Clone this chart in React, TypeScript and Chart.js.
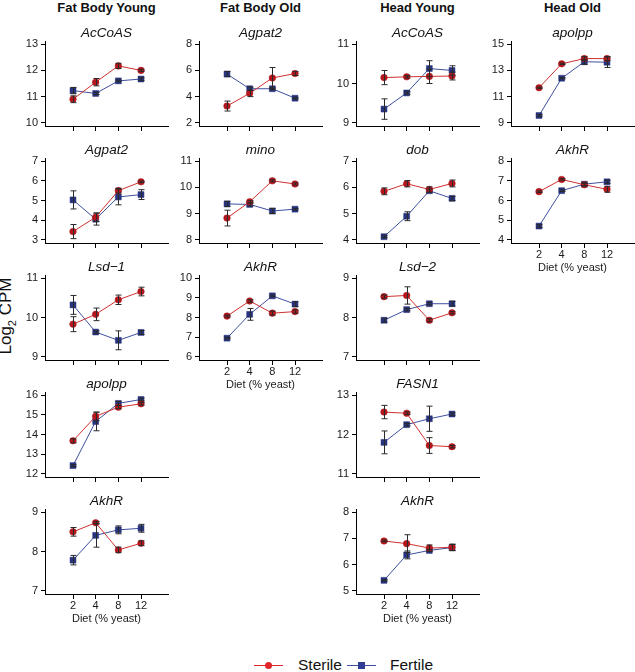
import React, { useEffect, useRef } from 'react';
import { Chart, registerables } from 'chart.js';

Chart.register(...registerables);

const FONT = '"Liberation Sans", Arial, Helvetica, sans-serif';
Chart.defaults.font.family = FONT;

// ---- categories / labels ----
const dietLabels = ['2', '4', '8', '12'];
const dietPositions = [1, 2, 3, 4];
const columnTitles = ['Fat Body Young', 'Fat Body Old', 'Head Young', 'Head Old'];
const seriesNames = ['Sterile', 'Fertile'];
const yAxisTitle = 'Log';

// ---- Fat Body Young ----
const fbyAcCoASTicks = [10, 11, 12, 13];
const fbyAcCoASSterile = [10.9, 11.55, 12.17, 12.0];
const fbyAcCoASSterileErr = [0.13, 0.14, 0.1, 0.04];
const fbyAcCoASFertile = [11.23, 11.12, 11.6, 11.67];
const fbyAcCoASFertileErr = [0.12, 0.04, 0.03, 0.05];

const fbyAgpat2Ticks = [3, 4, 5, 6, 7];
const fbyAgpat2Sterile = [3.42, 4.15, 5.5, 5.95];
const fbyAgpat2SterileErr = [0.36, 0.22, 0.12, 0.04];
const fbyAgpat2Fertile = [5.03, 4.05, 5.18, 5.3];
const fbyAgpat2FertileErr = [0.46, 0.3, 0.4, 0.25];

const fbyLsd1Ticks = [9, 10, 11];
const fbyLsd1Sterile = [9.83, 10.08, 10.45, 10.66];
const fbyLsd1SterileErr = [0.19, 0.16, 0.12, 0.11];
const fbyLsd1Fertile = [10.32, 9.63, 9.42, 9.62];
const fbyLsd1FertileErr = [0.24, 0.03, 0.24, 0.05];

const fbyApolppTicks = [12, 13, 14, 15, 16];
const fbyApolppSterile = [13.68, 14.92, 15.39, 15.56];
const fbyApolppSterileErr = [0.1, 0.22, 0.08, 0.07];
const fbyApolppFertile = [12.42, 14.66, 15.58, 15.78];
const fbyApolppFertileErr = [0.05, 0.47, 0.1, 0.07];

const fbyAkhRTicks = [7, 8, 9];
const fbyAkhRSterile = [8.5, 8.73, 8.04, 8.21];
const fbyAkhRSterileErr = [0.11, 0.03, 0.07, 0.06];
const fbyAkhRFertile = [7.78, 8.41, 8.55, 8.59];
const fbyAkhRFertileErr = [0.12, 0.3, 0.1, 0.1];

// ---- Fat Body Old ----
const fboAgpat2Ticks = [2, 4, 6, 8];
const fboAgpat2Sterile = [3.28, 4.25, 5.42, 5.76];
const fboAgpat2SterileErr = [0.38, 0.25, 0.8, 0.15];
const fboAgpat2Fertile = [5.72, 4.6, 4.6, 3.88];
const fboAgpat2FertileErr = [0.2, 0.12, 0.08, 0.06];

const fboMinoTicks = [8, 9, 10, 11];
const fboMinoSterile = [8.83, 9.45, 10.25, 10.13];
const fboMinoSterileErr = [0.3, 0.04, 0.04, 0.04];
const fboMinoFertile = [9.37, 9.35, 9.1, 9.17];
const fboMinoFertileErr = [0.1, 0.06, 0.1, 0.03];

const fboAkhRTicks = [6, 7, 8, 9, 10];
const fboAkhRSterile = [8.07, 8.84, 8.22, 8.3];
const fboAkhRSterileErr = [0.05, 0.06, 0.1, 0.08];
const fboAkhRFertile = [6.95, 8.16, 9.1, 8.68];
const fboAkhRFertileErr = [0.04, 0.3, 0.04, 0.12];

// ---- Head Young ----
const hyAcCoASTicks = [9, 10, 11];
const hyAcCoASSterile = [10.15, 10.17, 10.18, 10.19];
const hyAcCoASSterileErr = [0.18, 0.03, 0.18, 0.1];
const hyAcCoASFertile = [9.35, 9.76, 10.38, 10.33];
const hyAcCoASFertileErr = [0.26, 0.03, 0.2, 0.12];

const hyDobTicks = [4, 5, 6, 7];
const hyDobSterile = [5.85, 6.14, 5.92, 6.15];
const hyDobSterileErr = [0.13, 0.12, 0.1, 0.13];
const hyDobFertile = [4.12, 4.9, 5.87, 5.58];
const hyDobFertileErr = [0.04, 0.17, 0.06, 0.08];

const hyLsd2Ticks = [7, 8, 9];
const hyLsd2Sterile = [8.53, 8.56, 7.93, 8.12];
const hyLsd2SterileErr = [0.04, 0.22, 0.04, 0.03];
const hyLsd2Fertile = [7.93, 8.2, 8.35, 8.35];
const hyLsd2FertileErr = [0.05, 0.03, 0.03, 0.06];

const hyFasn1Ticks = [11, 12, 13];
const hyFasn1Sterile = [12.57, 12.54, 11.72, 11.69];
const hyFasn1SterileErr = [0.17, 0.03, 0.2, 0.03];
const hyFasn1Fertile = [11.8, 12.25, 12.4, 12.52];
const hyFasn1FertileErr = [0.29, 0.03, 0.32, 0.03];

const hyAkhRTicks = [5, 6, 7, 8];
const hyAkhRSterile = [6.9, 6.8, 6.63, 6.66];
const hyAkhRSterileErr = [0.03, 0.34, 0.12, 0.12];
const hyAkhRFertile = [5.4, 6.37, 6.54, 6.65];
const hyAkhRFertileErr = [0.03, 0.15, 0.04, 0.12];

// ---- Head Old ----
const hoApolppTicks = [9, 11, 13, 15];
const hoApolppSterile = [11.68, 13.5, 13.9, 13.9];
const hoApolppSterileErr = [0.05, 0.05, 0.15, 0.15];
const hoApolppFertile = [9.56, 12.4, 13.66, 13.62];
const hoApolppFertileErr = [0.07, 0.05, 0.2, 0.4];

const hoAkhRTicks = [4, 5, 6, 7, 8];
const hoAkhRSterile = [6.45, 7.07, 6.8, 6.57];
const hoAkhRSterileErr = [0.04, 0.04, 0.07, 0.15];
const hoAkhRFertile = [4.7, 6.5, 6.83, 6.95];
const hoAkhRFertileErr = [0.07, 0.04, 0.07, 0.08];

type PanelDef = {
  col: number; row: number; title: string; ticks: number[];
  s: number[]; se: number[]; f: number[]; fe: number[]; labeled: boolean;
};

const panels: PanelDef[] = [
  { col: 0, row: 0, title: 'AcCoAS', ticks: fbyAcCoASTicks, s: fbyAcCoASSterile, se: fbyAcCoASSterileErr, f: fbyAcCoASFertile, fe: fbyAcCoASFertileErr, labeled: false },
  { col: 0, row: 1, title: 'Agpat2', ticks: fbyAgpat2Ticks, s: fbyAgpat2Sterile, se: fbyAgpat2SterileErr, f: fbyAgpat2Fertile, fe: fbyAgpat2FertileErr, labeled: false },
  { col: 0, row: 2, title: 'Lsd\u22121', ticks: fbyLsd1Ticks, s: fbyLsd1Sterile, se: fbyLsd1SterileErr, f: fbyLsd1Fertile, fe: fbyLsd1FertileErr, labeled: false },
  { col: 0, row: 3, title: 'apolpp', ticks: fbyApolppTicks, s: fbyApolppSterile, se: fbyApolppSterileErr, f: fbyApolppFertile, fe: fbyApolppFertileErr, labeled: false },
  { col: 0, row: 4, title: 'AkhR', ticks: fbyAkhRTicks, s: fbyAkhRSterile, se: fbyAkhRSterileErr, f: fbyAkhRFertile, fe: fbyAkhRFertileErr, labeled: true },
  { col: 1, row: 0, title: 'Agpat2', ticks: fboAgpat2Ticks, s: fboAgpat2Sterile, se: fboAgpat2SterileErr, f: fboAgpat2Fertile, fe: fboAgpat2FertileErr, labeled: false },
  { col: 1, row: 1, title: 'mino', ticks: fboMinoTicks, s: fboMinoSterile, se: fboMinoSterileErr, f: fboMinoFertile, fe: fboMinoFertileErr, labeled: false },
  { col: 1, row: 2, title: 'AkhR', ticks: fboAkhRTicks, s: fboAkhRSterile, se: fboAkhRSterileErr, f: fboAkhRFertile, fe: fboAkhRFertileErr, labeled: true },
  { col: 2, row: 0, title: 'AcCoAS', ticks: hyAcCoASTicks, s: hyAcCoASSterile, se: hyAcCoASSterileErr, f: hyAcCoASFertile, fe: hyAcCoASFertileErr, labeled: false },
  { col: 2, row: 1, title: 'dob', ticks: hyDobTicks, s: hyDobSterile, se: hyDobSterileErr, f: hyDobFertile, fe: hyDobFertileErr, labeled: false },
  { col: 2, row: 2, title: 'Lsd\u22122', ticks: hyLsd2Ticks, s: hyLsd2Sterile, se: hyLsd2SterileErr, f: hyLsd2Fertile, fe: hyLsd2FertileErr, labeled: false },
  { col: 2, row: 3, title: 'FASN1', ticks: hyFasn1Ticks, s: hyFasn1Sterile, se: hyFasn1SterileErr, f: hyFasn1Fertile, fe: hyFasn1FertileErr, labeled: false },
  { col: 2, row: 4, title: 'AkhR', ticks: hyAkhRTicks, s: hyAkhRSterile, se: hyAkhRSterileErr, f: hyAkhRFertile, fe: hyAkhRFertileErr, labeled: true },
  { col: 3, row: 0, title: 'apolpp', ticks: hoApolppTicks, s: hoApolppSterile, se: hoApolppSterileErr, f: hoApolppFertile, fe: hoApolppFertileErr, labeled: false },
  { col: 3, row: 1, title: 'AkhR', ticks: hoAkhRTicks, s: hoAkhRSterile, se: hoAkhRSterileErr, f: hoAkhRFertile, fe: hoAkhRFertileErr, labeled: true },
];

// ---- layout ----
const COL_X = [45, 199, 356, 511];
const ROW_AXIS_Y = [126, 243, 360, 477, 594];
const PLOT_W = 123;
const PLOT_H = 85;
const PAD_L = 40;
const PAD_T = 30;
const CAT_STEP = 68 / 3;
const X_MIN = 1 - 28 / CAT_STEP;
const X_MAX = X_MIN + PLOT_W / CAT_STEP;

const RED_LINE = '#d0302f';
const RED_PT = '#b3161c';
const BLUE_LINE = '#3f4f9f';
const BLUE_PT = '#27337d';
const INK = '#1a1a1a';

const errorBarPlugin = {
  id: 'errorBars',
  afterDatasetsDraw(chart: any, _args: any, opts: any) {
    const { ctx, scales } = chart;
    const x = scales.x, y = scales.y;
    ctx.save();
    ctx.strokeStyle = '#2a2a2a';
    ctx.lineWidth = 1;
    chart.data.datasets.forEach((ds: any, di: number) => {
      const errs: number[] = opts.errors[di];
      ds.data.forEach((pt: any, i: number) => {
        const e = errs[i];
        const px = Math.round(x.getPixelForValue(pt.x)) + 0.5;
        const y1 = y.getPixelForValue(pt.y + e);
        const y2 = y.getPixelForValue(pt.y - e);
        ctx.beginPath();
        ctx.moveTo(px, y1); ctx.lineTo(px, y2);
        ctx.moveTo(px - 3, y1); ctx.lineTo(px + 3, y1);
        ctx.moveTo(px - 3, y2); ctx.lineTo(px + 3, y2);
        ctx.stroke();
      });
    });
    ctx.restore();
  },
};

const panelTitlePlugin = {
  id: 'panelTitle',
  afterDraw(chart: any, _args: any, opts: any) {
    const { ctx, chartArea } = chart;
    ctx.save();
    ctx.font = `italic 13.5px ${FONT}`;
    ctx.fillStyle = '#111';
    ctx.textAlign = 'center';
    ctx.textBaseline = 'alphabetic';
    ctx.fillText(opts.text, (chartArea.left + chartArea.right) / 2, chartArea.top - 4);
    ctx.restore();
  },
};

function Panel({ p }: { p: PanelDef }) {
  const ref = useRef<HTMLCanvasElement | null>(null);
  const xH = p.labeled ? 32 : 6;
  const padB = p.labeled ? 2 : 8;
  const W = PAD_L + PLOT_W + 40;
  const H = PAD_T + PLOT_H + xH + padB;
  const left = COL_X[p.col] - PAD_L;
  const top = ROW_AXIS_Y[p.row] - PLOT_H - PAD_T;

  useEffect(() => {
    if (!ref.current) return;
    const lo = p.ticks[0];
    const hi = p.ticks[p.ticks.length - 1];
    const ext = (hi - lo) * 0.04;
    const chart = new Chart(ref.current, {
      type: 'line',
      data: {
        datasets: [
          {
            label: seriesNames[0],
            data: dietPositions.map((x, i) => ({ x, y: p.s[i] })),
            borderColor: RED_LINE,
            borderWidth: 1,
            pointStyle: 'circle',
            pointRadius: 3.3,
            pointBackgroundColor: RED_PT,
            pointBorderColor: RED_PT,
            pointBorderWidth: 0.5,
            fill: false,
            tension: 0,
          },
          {
            label: seriesNames[1],
            data: dietPositions.map((x, i) => ({ x, y: p.f[i] })),
            borderColor: BLUE_LINE,
            borderWidth: 1,
            pointStyle: 'rect',
            pointRadius: 4.2,
            pointBackgroundColor: BLUE_PT,
            pointBorderColor: BLUE_PT,
            pointBorderWidth: 0.5,
            fill: false,
            tension: 0,
          },
        ],
      },
      options: {
        animation: false,
        responsive: false,
        maintainAspectRatio: false,
        events: [],
        layout: { padding: { left: 0, right: 40, top: PAD_T, bottom: padB } },
        plugins: {
          legend: { display: false },
          tooltip: { enabled: false },
          title: { display: false },
          errorBars: { errors: [p.se, p.fe] },
          panelTitle: { text: p.title },
        } as any,
        scales: {
          x: {
            type: 'linear',
            min: X_MIN,
            max: X_MAX,
            afterBuildTicks: (s: any) => { s.ticks = dietPositions.map((v) => ({ value: v })); },
            afterFit: (s: any) => { s.height = xH; },
            ticks: {
              display: p.labeled,
              autoSkip: false,
              maxRotation: 0,
              padding: 0,
              color: INK,
              font: { size: 11 },
              callback: (_v: any, i: number) => dietLabels[i],
            },
            grid: { drawOnChartArea: false, drawTicks: true, tickLength: 5, color: '#000' },
            border: { display: true, color: '#000', width: 1 },
            title: {
              display: p.labeled,
              text: 'Diet (% yeast)',
              color: INK,
              font: { size: 11 },
              padding: { top: 0, bottom: 0 },
            },
          },
          y: {
            type: 'linear',
            min: lo - ext,
            max: hi + ext,
            afterBuildTicks: (s: any) => { s.ticks = p.ticks.map((v) => ({ value: v })); },
            afterFit: (s: any) => { s.width = PAD_L; },
            ticks: { autoSkip: false, padding: 3, color: INK, font: { size: 11 } },
            grid: { drawOnChartArea: false, drawTicks: true, tickLength: 4, color: '#000' },
            border: { display: true, color: '#000', width: 1 },
          },
        } as any,
      },
      plugins: [errorBarPlugin, panelTitlePlugin],
    } as any);
    return () => chart.destroy();
  }, []);

  return (
    <canvas
      ref={ref}
      width={W}
      height={H}
      style={{ position: 'absolute', left, top, width: W, height: H }}
    />
  );
}

export default function App() {
  return (
    <div style={{ position: 'absolute', left: 0, top: 0, width: 635, height: 672, background: '#fff', fontFamily: FONT, overflow: 'hidden' }}>
      {columnTitles.map((t, i) => (
        <div
          key={t}
          style={{
            position: 'absolute', left: COL_X[i] + PLOT_W / 2 - 80, top: 0, width: 160,
            textAlign: 'center', fontWeight: 'bold', fontSize: 13, lineHeight: '15px', color: '#111',
          }}
        >
          {t}
        </div>
      ))}
      <div
        style={{
          position: 'absolute', left: 9, top: 316, transform: 'translate(-50%, -50%) rotate(-90deg)',
          whiteSpace: 'nowrap', fontSize: 17, color: '#111', lineHeight: '20px',
        }}
      >
        {yAxisTitle}<sub style={{ fontSize: 11 }}>2</sub> CPM
      </div>
      {panels.map((p, i) => <Panel key={i} p={p} />)}
      {/* legend */}
      <div style={{ position: 'absolute', left: 254, top: 664.5, width: 29, height: 1, background: '#e0262a' }} />
      <div style={{ position: 'absolute', left: 264.5, top: 661.5, width: 7, height: 7, borderRadius: '50%', background: '#e0262a' }} />
      <div style={{ position: 'absolute', left: 298, top: 655, fontSize: 15.5, lineHeight: '20px', color: '#111' }}>{seriesNames[0]}</div>
      <div style={{ position: 'absolute', left: 347, top: 664.5, width: 29, height: 1, background: '#3f4f9f' }} />
      <div style={{ position: 'absolute', left: 357.5, top: 661.5, width: 7, height: 7, background: '#2f3d94' }} />
      <div style={{ position: 'absolute', left: 390, top: 655, fontSize: 15.5, lineHeight: '20px', color: '#111' }}>{seriesNames[1]}</div>
    </div>
  );
}
